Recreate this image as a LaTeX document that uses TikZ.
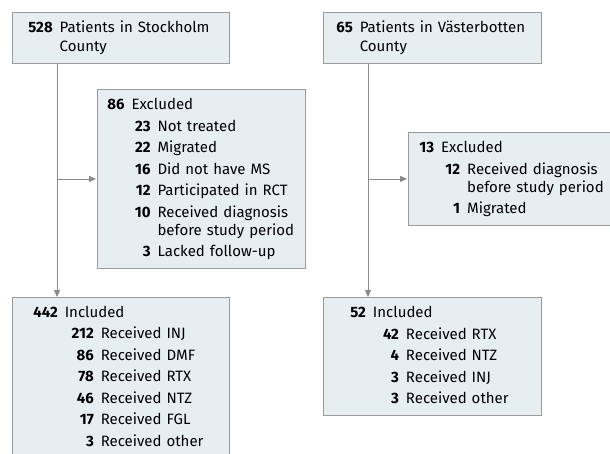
\documentclass[tikz,border=0pt]{standalone}
\usepackage{fontspec}
\setmainfont{Fira Sans}
\usepackage{tikz}
\usetikzlibrary{arrows.meta,positioning}
\definecolor{boxfill}{HTML}{E7EEF2}
\definecolor{boxline}{HTML}{9B9B9B}
\definecolor{flowline}{HTML}{8A8A8A}
\tikzset{>={Triangle[width=6pt,length=7pt]}}
\tikzset{
  box/.style={draw=boxline, fill=boxfill, line width=0.8pt, anchor=north west,
    inner ysep=0pt, align=left, font=\fontsize{15}{18}\selectfont},
  flow/.style={draw=flowline, line width=0.8pt}
}
% one sub row: number right aligned in a box of width #1
\newcommand\itm[3][19pt]{\makebox[#1][r]{\textbf{#2}}\hspace{7pt}#3}
\renewcommand\arraystretch{1.194}

\begin{document}
\begin{tikzpicture}[x=1pt, y=-1pt]

  \useasboundingbox (0,0) rectangle (610,453);
  \clip (0,0) rectangle (610,453);

  % county boxes
  \node[box, inner xsep=16pt, text width=185pt, minimum height=51pt] (stock) at (12,12)
    {\begin{tabular}{@{}r@{\hspace{7pt}}l@{}}
      \textbf{528} & Patients in Stockholm\\[-2.5pt]
                   & County
    \end{tabular}};
  \node[box, inner xsep=13pt, text width=192pt, minimum height=51pt] (vast) at (323,12)
    {\begin{tabular}{@{}r@{\hspace{7pt}}l@{}}
      \textbf{65} & Patients in Västerbotten\\[-2.5pt]
                  & County
    \end{tabular}};

  % excluded
  \node[box, inner xsep=10pt, text width=188pt, minimum height=179pt] (exclS) at (97,89)
    {\begin{tabular}{@{}r@{\hspace{7pt}}l@{}}
      \textbf{86} & Excluded\\
      & \itm{23}{Not treated}\\
      & \itm{22}{Migrated}\\
      & \itm{16}{Did not have MS}\\
      & \itm{12}{Participated in RCT}\\
      & \itm{10}{Received diagnosis}\\[-3.5pt]
      & \itm{}{before study period}\\
      & \itm{3}{Lacked follow-up}
    \end{tabular}};
  \node[box, inner xsep=11pt, text width=193pt, minimum height=93pt] (exclV) at (408,132)
    {\begin{tabular}{@{}r@{\hspace{7pt}}l@{}}
      \textbf{13} & Excluded\\
      & \itm{12}{Received diagnosis}\\[-3.5pt]
      & \itm{}{before study period}\\
      & \itm{1}{Migrated}
    \end{tabular}};

  % included
  \node[box, inner xsep=21pt, text width=175pt, minimum height=160pt] (inclS) at (12,297)
    {\begin{tabular}{@{}r@{\hspace{7pt}}l@{}}
      \textbf{442} & Included\\
      & \itm[29pt]{212}{Received INJ}\\
      & \itm[29pt]{86}{Received DMF}\\
      & \itm[29pt]{78}{Received RTX}\\
      & \itm[29pt]{46}{Received NTZ}\\
      & \itm[29pt]{17}{Received FGL}\\
      & \itm[29pt]{3}{Received other}
    \end{tabular}};
  \node[box, inner xsep=27pt, text width=164pt, minimum height=118pt] (inclV) at (323,297)
    {\begin{tabular}{@{}r@{\hspace{7pt}}l@{}}
      \textbf{52} & Included\\
      & \itm[26pt]{42}{Received RTX}\\
      & \itm[26pt]{4}{Received NTZ}\\
      & \itm[26pt]{3}{Received INJ}\\
      & \itm[26pt]{3}{Received other}
    \end{tabular}};

  % connectors
  \coordinate (sS) at ([xshift=45pt]stock.south west);
  \coordinate (sV) at ([xshift=45pt]vast.south west);

  \draw[flow, ->] (sS) -- (sS |- inclS.north); % Stockholm -> included
  \draw[flow, ->, shorten >=1pt] (sS |- exclS.west) -- (exclS.west); % -> excluded
  \draw[flow, ->] (sV) -- (sV |- inclV.north); % Vasterbotten -> included
  \draw[flow, ->, shorten >=1pt] (sV |- exclV.west) -- (exclV.west); % -> excluded

\end{tikzpicture}
\end{document}
